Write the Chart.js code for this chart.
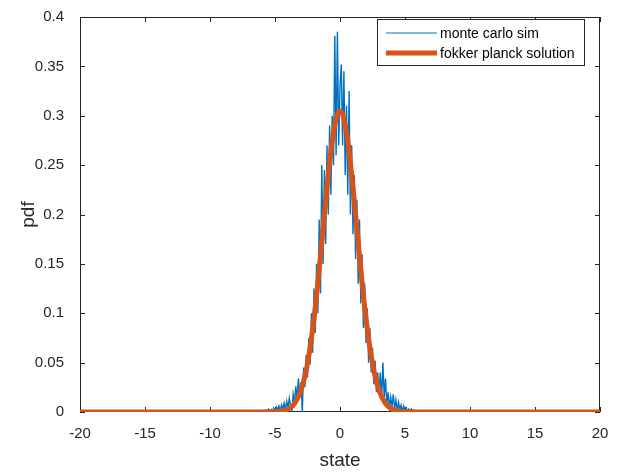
<!DOCTYPE html>
<html>
<head>
<meta charset="utf-8">
<script src="https://cdn.jsdelivr.net/npm/chart.js@4.4.1/dist/chart.umd.min.js"></script>
<style>
  html, body { margin: 0; padding: 0; background: #fff; }
  #wrap { width: 630px; height: 475px; }
</style>
</head>
<body>
<div id="wrap"><canvas id="myChart" width="630" height="475"></canvas></div>
<script>
// monte carlo histogram (bins of 0.1 from -6 to 6)
const simBinStart = -6.0;
const simBinWidth = 0.1;
const simPdf = [
  0, 0.0015, 0, 0.002, 0.0005, 0.003, 0.001, 0.0025, 0, 0.004,
  0.001, 0.005, 0.002, 0.006, 0.001, 0.007, 0.003, 0.009, 0.002, 0.011,
  0.004, 0.014, 0.006, 0, 0.018, 0.009, 0.026, 0.012, 0.034, 0.017,
  0.03, 0, 0.045, 0.025, 0.058, 0.035, 0.075, 0.048, 0.1, 0.06,
  0.125, 0.08, 0.15, 0.1, 0.195, 0.12, 0.25, 0.15, 0.245, 0.17,
  0.27, 0.2, 0.29, 0.22, 0.3, 0.25, 0.381, 0.26, 0.385, 0.27,
  0.33,
  0.352, 0.27, 0.345, 0.24, 0.31, 0.22, 0.325, 0.2, 0.27, 0.18,
  0.24, 0.155, 0.215, 0.13, 0.195, 0.11, 0.16, 0.085, 0.13, 0.07,
  0.105, 0.05, 0.085, 0.04, 0.065, 0.028, 0.052, 0.02, 0.04, 0.02,
  0.04, 0.012, 0.05, 0.015, 0.034, 0.008, 0.02, 0.004, 0.015, 0.005,
  0.018, 0.003, 0.012, 0.001, 0.01, 0.002, 0.007, 0, 0.006, 0.001,
  0.004, 0, 0.003, 0.001, 0.003, 0, 0.002, 0, 0.001, 0
];

// fokker planck solution
const fpState = [-20, -6, -5.5, -5, -4.5, -4, -3.5, -3, -2.5, -2, -1.5, -1, -0.5, 0,
                 0.5, 1, 1.5, 2, 2.5, 3, 3.5, 4, 4.5, 5, 5.5, 6, 20];
const fpPdf = [0, 0, 0.00004, 0.0002, 0.0008, 0.0028, 0.0085, 0.022, 0.049, 0.0946, 0.158, 0.2277, 0.2835, 0.305,
               0.2835, 0.2277, 0.158, 0.0946, 0.049, 0.022, 0.0085, 0.0028, 0.0008, 0.0002, 0.00004, 0, 0];

const xTicks = [-20, -15, -10, -5, 0, 5, 10, 15, 20];
const yTicks = [0, 0.05, 0.1, 0.15, 0.2, 0.25, 0.3, 0.35, 0.4];
const seriesLabels = ['monte carlo sim', 'fokker planck solution'];
const seriesColors = ['#0072BD', '#D95319'];
const axisColor = '#262626';

Chart.defaults.font.family = '"Liberation Sans", Arial, Helvetica, sans-serif';
Chart.defaults.color = axisColor;

const simPoints = simPdf.map((v, i) => ({ x: simBinStart + i * simBinWidth, y: v }));
const fpPoints = fpPdf.map((v, i) => ({ x: fpState[i], y: v }));

// box + inward ticks, drawn under the data like matlab
const matlabAxes = {
  id: 'matlabAxes',
  beforeDatasetsDraw(chart) {
    const { ctx, chartArea: a, scales: { x, y } } = chart;
    ctx.save();
    ctx.strokeStyle = axisColor;
    ctx.lineWidth = 1;
    ctx.beginPath();
    xTicks.forEach(v => {
      const px = Math.round(x.getPixelForValue(v)) + 0.5;
      ctx.moveTo(px, a.bottom); ctx.lineTo(px, a.bottom - 5);
      ctx.moveTo(px, a.top); ctx.lineTo(px, a.top + 5);
    });
    yTicks.forEach(v => {
      const py = Math.round(y.getPixelForValue(v)) + 0.5;
      ctx.moveTo(a.left, py); ctx.lineTo(a.left + 5, py);
      ctx.moveTo(a.right, py); ctx.lineTo(a.right - 5, py);
    });
    ctx.stroke();
    ctx.strokeRect(Math.round(a.left) + 0.5, Math.round(a.top) + 0.5,
                   Math.round(a.width) - 1, Math.round(a.height) - 1);
    ctx.restore();
  },
  afterDraw(chart) {
    const ctx = chart.ctx;
    const bx = 377, by = 19, bw = 207, bh = 46;
    ctx.save();
    ctx.fillStyle = '#fff';
    ctx.fillRect(bx, by, bw, bh);
    ctx.strokeStyle = axisColor;
    ctx.lineWidth = 1;
    ctx.strokeRect(bx + 0.5, by + 0.5, bw, bh);
    ctx.font = '14px ' + Chart.defaults.font.family;
    ctx.textBaseline = 'middle';
    ctx.fillStyle = '#000';
    chart.data.datasets.forEach((ds, i) => {
      const ly = by + 14 + i * 20;
      ctx.strokeStyle = ds.borderColor;
      ctx.lineWidth = i === 0 ? 1 : ds.borderWidth;
      ctx.beginPath();
      ctx.moveTo(bx + 9, ly); ctx.lineTo(bx + 60, ly);
      ctx.stroke();
      ctx.fillText(ds.label, bx + 63, ly + 1);
    });
    ctx.restore();
  }
};

new Chart(document.getElementById('myChart'), {
  type: 'line',
  data: {
    datasets: [{
      label: seriesLabels[0],
      data: simPoints,
      borderColor: seriesColors[0],
      borderWidth: 1.4,
      pointRadius: 0,
      tension: 0,
      order: 1
    }, {
      label: seriesLabels[1],
      data: fpPoints,
      borderColor: seriesColors[1],
      borderWidth: 5,
      pointRadius: 0,
      cubicInterpolationMode: 'monotone',
      order: 0
    }]
  },
  options: {
    responsive: false,
    animation: false,
    layout: { padding: { top: 4, right: 30, left: 0, bottom: 0 } },
    plugins: { legend: { display: false }, tooltip: { enabled: false } },
    scales: {
      x: {
        type: 'linear',
        min: -20, max: 20,
        afterFit(scale) { scale.height = 63; },
        afterBuildTicks(scale) { scale.ticks = xTicks.map(v => ({ value: v })); },
        grid: { display: false },
        border: { display: false },
        ticks: { padding: 5, font: { size: 15 }, maxRotation: 0, callback: v => String(v) },
        title: { display: true, text: 'state', font: { size: 19 }, padding: { top: 0, bottom: 3 } }
      },
      y: {
        type: 'linear',
        min: 0, max: 0.4,
        afterFit(scale) { scale.width = 80; },
        afterBuildTicks(scale) { scale.ticks = yTicks.map(v => ({ value: v })); },
        grid: { display: false },
        border: { display: false },
        ticks: { padding: 8, font: { size: 15 }, callback: v => String(+v.toFixed(2)) },
        title: { display: true, text: 'pdf', font: { size: 19 }, padding: { top: 17, bottom: 0 } }
      }
    }
  },
  plugins: [matlabAxes]
});
</script>
</body>
</html>
